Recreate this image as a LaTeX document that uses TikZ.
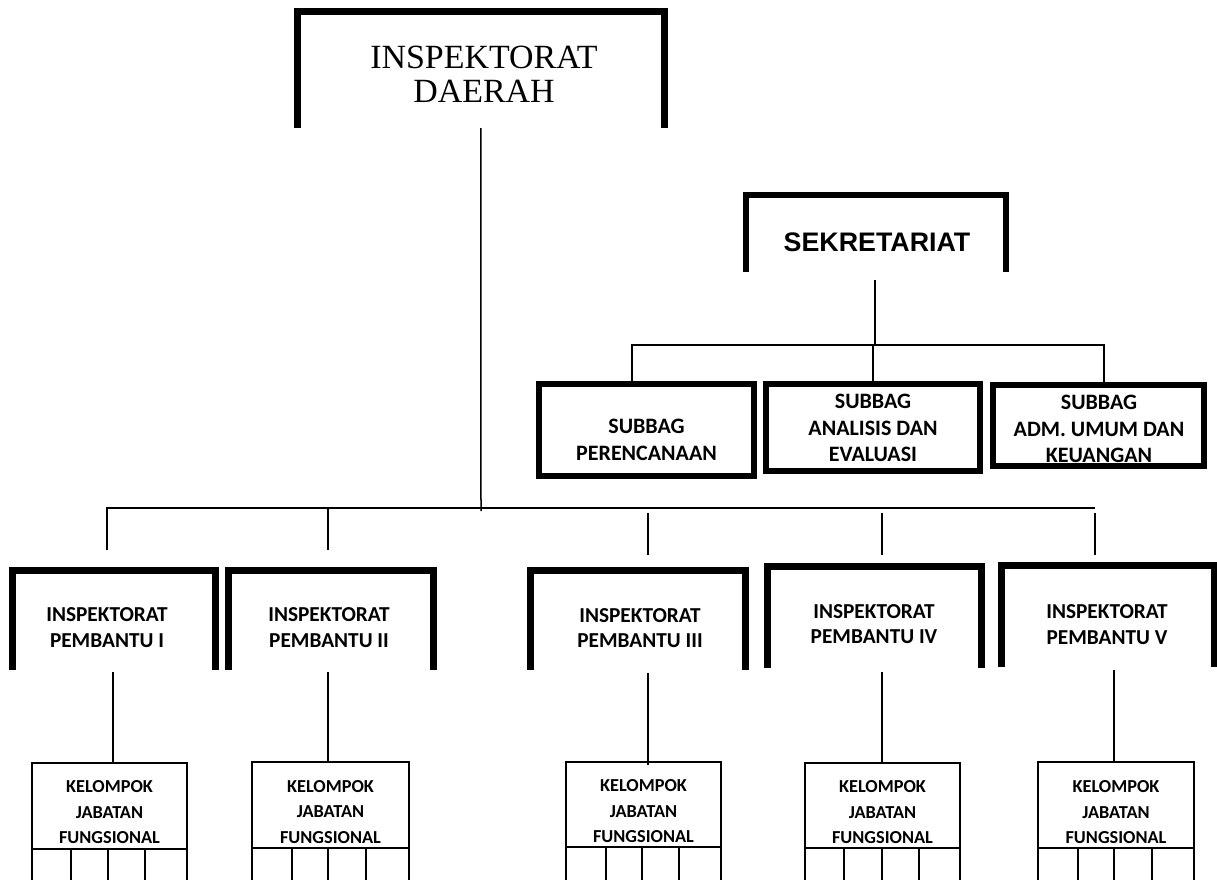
\documentclass[tikz,border=0pt]{standalone}
\usepackage{fontspec}
\setmainfont{Carlito}
\newfontfamily\serifface{Liberation Serif}
\newfontfamily\arialface{Liberation Sans}
\begin{document}
\begin{tikzpicture}[x=1pt,y=-1pt,
  frame/.style={inner sep=0pt,outer sep=0pt,draw=none},
  heavy/.style={line width=7pt},
  medium/.style={line width=6pt},
  thinline/.style={line width=1.5pt},
  kline/.style={line width=1.7pt},
  lbl/.style={align=center,inner sep=0pt,font=\bfseries\fontsize{21.3}{25.5}\selectfont},
  slbl/.style={align=center,inner sep=0pt,font=\bfseries\fontsize{22}{26.5}\selectfont},
  klbl/.style={align=center,inner sep=0pt,font=\bfseries\fontsize{18.3}{25.5}\selectfont},
]
\useasboundingbox (0,0) rectangle (1217,879);
\clip (0,0) rectangle (1217,879);

% ---- top box
\node[frame,minimum width=366.5pt,minimum height=117pt] (top) at (480.75,69.5) {};
\draw[heavy] (top.south west) -- (top.north west) -- (top.north east) -- (top.south east);
\node[align=center,inner sep=0pt,font=\serifface\fontsize{33.9}{34}\selectfont] (ttop) at (484,74) {INSPEKTORAT\\DAERAH};

% ---- sekretariat
\node[frame,minimum width=260pt,minimum height=77pt] (sek) at (875.5,233.5) {};
\draw[medium] (sek.south west) -- (sek.north west) -- (sek.north east) -- (sek.south east);
\node[inner sep=0pt,font=\arialface\bfseries\fontsize{26.8}{30}\selectfont] (tsek) at (877,242) {SEKRETARIAT};

% ---- subbag boxes
\node[frame,draw,medium,minimum width=215pt,minimum height=92pt] (sb1) at (646.5,430) {};
\node[frame,draw,medium,minimum width=214pt,minimum height=87pt] (sb2) at (873,427.5) {};
\node[frame,draw,medium,minimum width=211pt,minimum height=81pt] (sb3) at (1098,425.5) {};
\node[slbl] (tsb1) at (646.5,440) {SUBBAG\\PERENCANAAN};
\node[slbl] (tsb2) at (873,428) {SUBBAG\\ANALISIS DAN\\EVALUASI};
\node[slbl] (tsb3) at (1099,429) {SUBBAG\\ADM. UMUM DAN\\KEUANGAN};

% sekretariat connectors
\coordinate (s0) at (875,280);
\coordinate (sj) at (875,345);
\coordinate (c1) at (632,345);
\coordinate (c2) at (873,345);
\coordinate (c3) at (1104,345);
\draw[thinline] (s0) -- (sj);
\draw[thinline] (c1 |- sb1.north) -- (c1) -- (c3) -- (c3 |- sb3.north);
\draw[thinline] (c2) -- (c2 |- sb2.north);

% ---- inspektorat pembantu boxes
\node[frame,minimum width=203pt,minimum height=100pt] (p1) at (114,620) {};
\node[frame,minimum width=204.5pt,minimum height=100pt] (p2) at (330.75,620) {};
\node[frame,minimum width=214.5pt,minimum height=100pt] (p3) at (637.75,620) {};
\node[frame,minimum width=214pt,minimum height=102pt] (p4) at (874,617) {};
\node[frame,minimum width=212.5pt,minimum height=102pt] (p5) at (1107.75,616) {};
\foreach \n in {p1,p2,p3,p4,p5}{
  \draw[heavy] (\n.south west) -- (\n.north west) -- (\n.north east) -- (\n.south east);
}
\node[lbl] (tp1) at (107,627.5) {INSPEKTORAT\\PEMBANTU I};
\node[lbl] (tp2) at (329,627.5) {INSPEKTORAT\\PEMBANTU II};
\node[lbl] (tp3) at (640,628) {INSPEKTORAT\\PEMBANTU III};
\node[lbl] (tp4) at (874,624) {INSPEKTORAT\\PEMBANTU IV};
\node[lbl] (tp5) at (1107,624.5) {INSPEKTORAT\\PEMBANTU V};

% main connectors
\coordinate (m0) at (481,511);
\draw[thinline] (top.south) -- (m0);
\coordinate (a1) at (107,508);
\coordinate (a2) at (328,508);
\coordinate (a5) at (1095,508);
\coordinate (b1) at (107,550);
\coordinate (b2) at (328,550);
\coordinate (a3) at (648,513);
\coordinate (b3) at (648,555);
\coordinate (a4) at (882,513);
\coordinate (b4) at (882,555);
\coordinate (a5s) at (1095,513);
\coordinate (b5) at (1095,555);
\draw[thinline] (b1) -- (a1) -- (a5);
\draw[thinline] (a2) -- (b2);
\draw[thinline] (a3) -- (b3);
\draw[thinline] (a4) -- (b4);
\draw[thinline] (a5s) -- (b5);

% ---- kelompok jabatan fungsional
\node[frame,draw,kline,minimum width=155pt,minimum height=200pt] (k1) at (109.5,863) {};
\node[frame,draw,kline,minimum width=157pt,minimum height=200pt] (k2) at (330.5,862) {};
\node[frame,draw,kline,minimum width=155pt,minimum height=200pt] (k3) at (643.5,862) {};
\node[frame,draw,kline,minimum width=155pt,minimum height=200pt] (k4) at (882.5,863) {};
\node[frame,draw,kline,minimum width=156pt,minimum height=200pt] (k5) at (1116,862) {};
\node[klbl] (tk1) at (109.5,812.5) {KELOMPOK\\JABATAN\\FUNGSIONAL};
\node[klbl] (tk2) at (330.5,812) {KELOMPOK\\JABATAN\\FUNGSIONAL};
\node[klbl] (tk3) at (643.5,811.5) {KELOMPOK\\JABATAN\\FUNGSIONAL};
\node[klbl] (tk4) at (882.5,812.5) {KELOMPOK\\JABATAN\\FUNGSIONAL};
\node[klbl] (tk5) at (1116,812.5) {KELOMPOK\\JABATAN\\FUNGSIONAL};

% grid lines inside kelompok boxes
\draw[kline] (32,849) -- (187,849);
\foreach \x in {71,108,145}{\draw[kline] (\x,849) -- (\x,880);}
\draw[kline] (252,848) -- (409,848);
\foreach \x in {292,328,366}{\draw[kline] (\x,848) -- (\x,880);}
\draw[kline] (566,847) -- (721,847);
\foreach \x in {606,642,679}{\draw[kline] (\x,847) -- (\x,880);}
\draw[kline] (805,848) -- (960,848);
\foreach \x in {844,882,919}{\draw[kline] (\x,848) -- (\x,880);}
\draw[kline] (1038,848) -- (1194,848);
\foreach \x in {1078,1114,1152}{\draw[kline] (\x,848) -- (\x,880);}

% kelompok connectors
\coordinate (q1) at (113,672);
\coordinate (q2) at (328,672);
\coordinate (q3) at (648,673);
\coordinate (q4) at (882,672);
\coordinate (q5) at (1114,670);
\draw[thinline] (q1) -- (q1 |- k1.north);
\draw[thinline] (q2) -- (q2 |- k2.north);
\draw[thinline] (q3) -- ([yshift=-3pt]q3 |- k3.north);
\draw[thinline] (q4) -- (q4 |- k4.north);
\draw[thinline] (q5) -- (q5 |- k5.north);
\end{tikzpicture}
\end{document}
